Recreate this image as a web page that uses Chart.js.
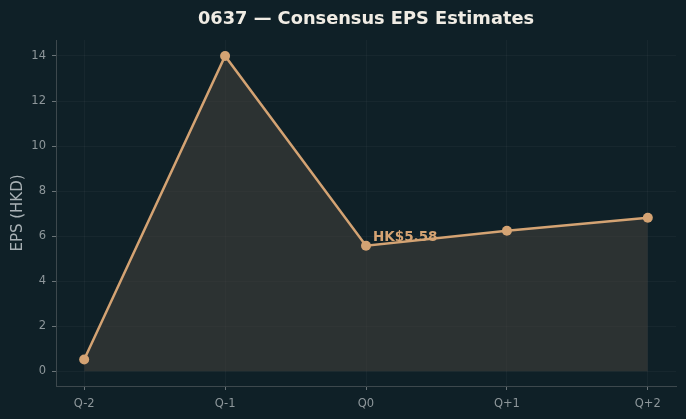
<!DOCTYPE html>
<html><head><meta charset="utf-8">
<script src="https://cdn.jsdelivr.net/npm/chart.js@4/dist/chart.umd.min.js"></script>
<style>html,body{margin:0;padding:0;background:#0f2027;}#c{display:block;}</style>
</head><body>
<canvas id="c" width="686" height="419"></canvas>
<script>
const categories = ["Q-2", "Q-1", "Q0", "Q+1", "Q+2"];
const epsValues = [0.53, 14.0, 5.58, 6.24, 6.82];
const yTicks = [0, 2, 4, 6, 8, 10, 12, 14];
const annotationIndex = 2;
const annotationText = "HK$5.58";
const titleText = "0637 \u2014 Consensus EPS Estimates";

const FONT = "'DejaVu Sans', sans-serif";
const BG = "#0f2027";
const LINE = "#d4a373";

const bgPlugin = {
  id: 'bg',
  beforeDraw(chart) {
    const ctx = chart.ctx;
    ctx.save();
    ctx.fillStyle = BG;
    ctx.fillRect(0, 0, chart.width, chart.height);
    ctx.restore();
  }
};
const textPlugin = {
  id: 'texts',
  afterDraw(chart) {
    const ctx = chart.ctx;
    ctx.save();
    ctx.fillStyle = "#f0ece4";
    ctx.font = "bold 17.8px " + FONT;
    ctx.textAlign = "center";
    ctx.textBaseline = "middle";
    ctx.fillText(titleText, 366, 19);
    ctx.translate(18, 213);
    ctx.rotate(-Math.PI / 2);
    ctx.fillStyle = "#a9b1b5";
    ctx.font = "15px " + FONT;
    ctx.fillText("EPS (HKD)", 0, 0);
    ctx.restore();
    const xs = chart.scales.x, ys = chart.scales.y;
    const px = xs.getPixelForValue(annotationIndex);
    const py = ys.getPixelForValue(epsValues[annotationIndex]);
    ctx.save();
    ctx.fillStyle = LINE;
    ctx.font = "bold 13.5px " + FONT;
    ctx.textAlign = "left";
    ctx.textBaseline = "alphabetic";
    ctx.fillText(annotationText, px + 7, py - 5);
    ctx.restore();
  }
};

new Chart(document.getElementById('c'), {
  type: 'line',
  data: {
    datasets: [{
      data: epsValues.map((v, i) => ({x: i, y: v})),
      borderColor: LINE,
      borderWidth: 2.5,
      backgroundColor: "rgba(70,66,60,0.55)",
      fill: 'origin',
      pointRadius: 5,
      pointBackgroundColor: LINE,
      pointBorderColor: LINE,
      pointBorderWidth: 0,
      tension: 0
    }]
  },
  options: {
    responsive: false,
    animation: false,
    devicePixelRatio: 1,
    layout: {padding: {top: 40, right: 10, left: 0, bottom: 0}},
    plugins: {legend: {display: false}, tooltip: {enabled: false}},
    scales: {
      x: {
        type: 'linear', min: -0.2, max: 4.2,
        afterBuildTicks(s) { s.ticks = categories.map((c, i) => ({value: i})); },
        afterFit(s) { s.height = 33; },
        ticks: {
          callback: (v) => categories[v] ?? '',
          color: "#8e979b", font: {family: FONT, size: 11.5}, padding: 7, maxRotation: 0
        },
        grid: {color: "rgba(255,255,255,0.035)", tickColor: "#6a7478", tickLength: 4, drawTicks: true},
        border: {color: "#3d484d", width: 1}
      },
      y: {
        type: 'linear', min: -0.65, max: 14.71,
        afterBuildTicks(s) { s.ticks = yTicks.map(v => ({value: v})); },
        afterFit(s) { s.width = 56; },
        ticks: {color: "#8e979b", font: {family: FONT, size: 11.5}, padding: 6},
        grid: {color: "rgba(255,255,255,0.035)", tickColor: "#6a7478", tickLength: 4, drawTicks: true},
        border: {color: "#3d484d", width: 1}
      }
    }
  },
  plugins: [bgPlugin, textPlugin]
});
</script>
</body></html>
